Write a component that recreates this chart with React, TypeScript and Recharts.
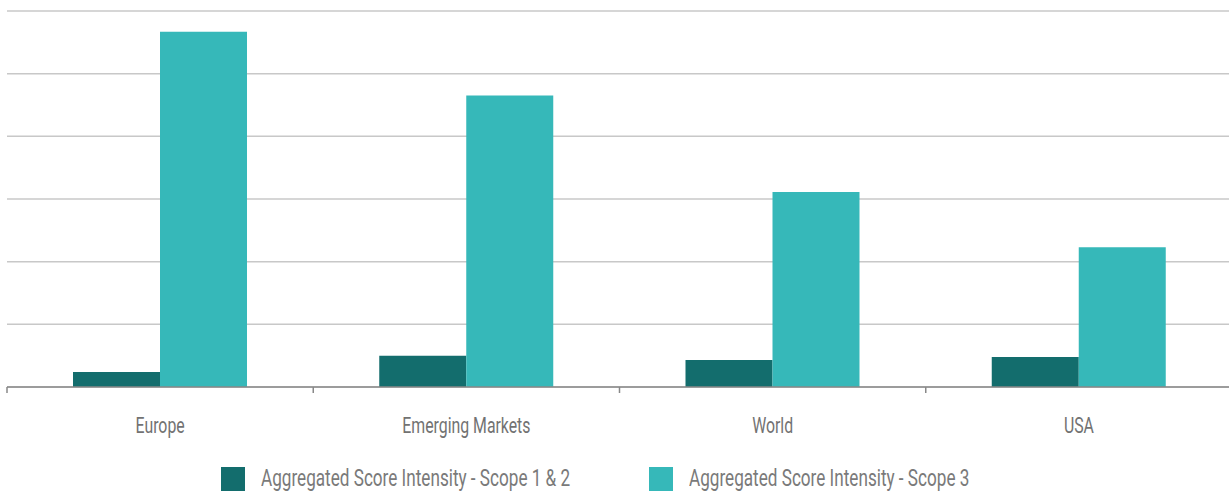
import { BarChart, Bar, XAxis, YAxis, CartesianGrid, Legend } from "recharts";

const regions = ["Europe", "Emerging Markets", "World", "USA"];
const scope12 = [0.24, 0.5, 0.43, 0.48];
const scope3 = [5.67, 4.65, 3.11, 2.23];
const yTicks = [0, 1, 2, 3, 4, 5, 6];

const seriesNames = {
  s12: "Aggregated Score Intensity - Scope 1 & 2",
  s3: "Aggregated Score Intensity - Scope 3",
};
const DARK = "#136d6d";
const TEAL = "#36b8b9";
const FONT = "Roboto, 'Noto Sans', sans-serif";
const SQUEEZE = 0.72; // horizontal squeeze to get a condensed face

const data = regions.map((region, i) => ({ region, s12: scope12[i], s3: scope3[i] }));

const W = 1229;
const H = 493;
const LEFT = 7;
const RIGHT = -3; // last band runs a little past the edge
const BAND = (W - LEFT - RIGHT) / regions.length;

// category label plus a short tick on the left edge of each band
function RegionTick(props: any) {
  const { x, y, payload } = props;
  const edge = x - BAND / 2;
  const ty = y + 38;
  return (
    <g>
      <line x1={edge} y1={y - 8} x2={edge} y2={y - 2} stroke="#888" strokeWidth={1.5} />
      <text
        x={0}
        y={0}
        transform={`translate(${x},${ty}) scale(${SQUEEZE},1)`}
        textAnchor="middle"
        fill="#727272"
        fontSize={22}
        fontFamily={FONT}
      >
        {payload.value}
      </text>
    </g>
  );
}

function LegendBox() {
  const items = [
    { label: seriesNames.s12, color: DARK, left: 221 },
    { label: seriesNames.s3, color: TEAL, left: 649 },
  ];
  return (
    <div style={{ position: "relative", width: W, height: 56 }}>
      {items.map((it) => (
        <div key={it.label} style={{ position: "absolute", left: it.left, top: 30, height: 24 }}>
          <span style={{ position: "absolute", left: 0, top: 0, width: 24, height: 24, background: it.color }} />
          <span
            style={{
              position: "absolute",
              left: 40,
              top: 0,
              whiteSpace: "nowrap",
              fontFamily: FONT,
              fontSize: 23,
              color: "#7a7a7a",
              lineHeight: "24px",
              transform: "scaleX(0.745)",
              transformOrigin: "left center",
            }}
          >
            {it.label}
          </span>
        </div>
      ))}
    </div>
  );
}

export default function App() {
  return (
    <div style={{ position: "absolute", left: 0, top: 0, width: W, height: H, background: "#fff", overflow: "hidden" }}>
      <BarChart width={W} height={H} data={data} margin={{ top: 11, right: RIGHT, left: LEFT, bottom: 0 }} barGap={0} barCategoryGap={66}>
        <CartesianGrid vertical={false} stroke="#c8c8c8" strokeWidth={1.5} />
        <YAxis hide domain={[0, 6]} ticks={yTicks} />
        <XAxis dataKey="region" height={50} axisLine={{ stroke: "#888", strokeWidth: 1.5 }} tickLine={false} tick={<RegionTick />} interval={0} />
        <Legend verticalAlign="bottom" content={<LegendBox />} wrapperStyle={{ left: 0, width: W }} />
        <Bar dataKey="s12" name={seriesNames.s12} fill={DARK} isAnimationActive={false} />
        <Bar dataKey="s3" name={seriesNames.s3} fill={TEAL} isAnimationActive={false} />
      </BarChart>
    </div>
  );
}
